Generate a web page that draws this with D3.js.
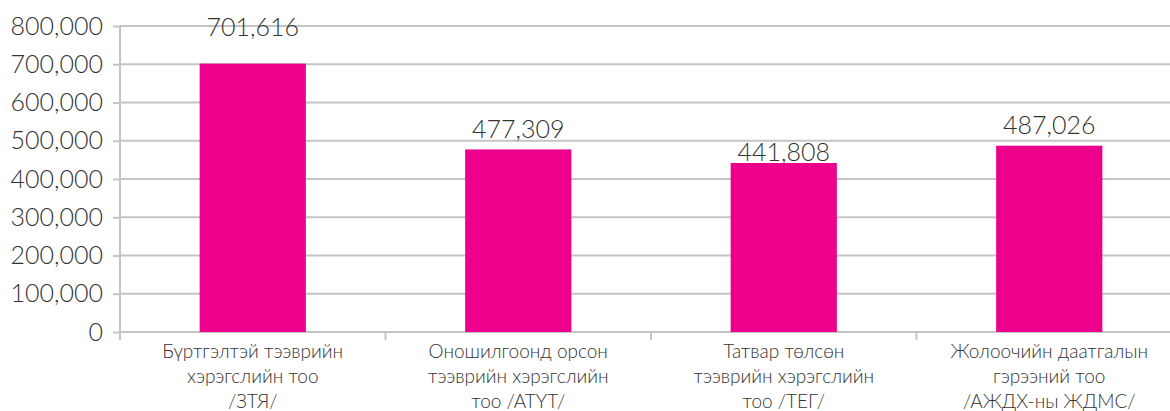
<!DOCTYPE html>
<html>
<head>
<meta charset="utf-8">
<script src="https://cdn.jsdelivr.net/npm/d3@7"></script>
<style>
  body { margin: 0; background: #fff; }
  svg { display: block; font-family: Lato, 'Liberation Sans', sans-serif; font-weight: 300; }
</style>
</head>
<body>
<div id="chart"></div>
<script>
// Chart data
const categories = [
  ['Бүртгэлтэй тээврийн', 'хэрэгслийн тоо', '/ЗТЯ/'],
  ['Оношилгоонд орсон', 'тээврийн хэрэгслийн', 'тоо /АТҮТ/'],
  ['Татвар төлсөн', 'тээврийн хэрэгслийн', 'тоо /ТЕГ/'],
  ['Жолоочийн даатгалын', 'гэрээний тоо', '/АЖДХ-ны ЖДМС/']
];
const values = [701616, 477309, 441808, 487026];
const yTicks = [0, 100000, 200000, 300000, 400000, 500000, 600000, 700000, 800000];

const width = 1170;
const height = 411;
const margin = { top: 26, left: 120 };
const plotH = 306;
const plotW = 1062;

const svg = d3.select('#chart').append('svg')
  .attr('width', width)
  .attr('height', height);

const x = d3.scaleBand()
  .domain(d3.range(categories.length))
  .range([0, plotW])
  .paddingInner(0.6)
  .paddingOuter(0.3);

const y = d3.scaleLinear()
  .domain([0, 800000])
  .range([plotH, 0]);

const fmt = d3.format(',');

const g = svg.append('g')
  .attr('transform', `translate(${margin.left},${margin.top})`);

// gridlines
g.append('g')
  .selectAll('line')
  .data(yTicks)
  .join('line')
  .attr('x1', 0)
  .attr('x2', plotW)
  .attr('y1', (d) => y(d))
  .attr('y2', (d) => y(d))
  .attr('stroke', '#c4c4c4')
  .attr('stroke-width', 2);

// y axis
const yAxis = d3.axisLeft(y)
  .tickValues(yTicks)
  .tickFormat(fmt)
  .tickSize(7)
  .tickPadding(10);

g.append('g')
  .call(yAxis)
  .call((s) => s.select('.domain').remove())
  .call((s) => s.selectAll('.tick line').attr('stroke', '#c4c4c4').attr('stroke-width', 2))
  .call((s) => s.selectAll('.tick text')
    .attr('fill', '#333')
    .style('font-size', '25px')
    .style('font-family', 'Lato, sans-serif')
    .style('font-weight', 300));

// vertical axis line
g.append('line')
  .attr('x1', 0).attr('x2', 0)
  .attr('y1', 0).attr('y2', plotH + 8)
  .attr('stroke', '#c4c4c4')
  .attr('stroke-width', 2);

// category separators
g.append('g')
  .selectAll('line')
  .data(d3.range(categories.length + 1))
  .join('line')
  .attr('x1', (i) => i * x.step())
  .attr('x2', (i) => i * x.step())
  .attr('y1', plotH)
  .attr('y2', plotH + 8)
  .attr('stroke', '#c4c4c4')
  .attr('stroke-width', 2);

// bars
g.append('g')
  .selectAll('rect')
  .data(values)
  .join('rect')
  .attr('x', (d, i) => x(i))
  .attr('y', (d) => y(d))
  .attr('width', x.bandwidth())
  .attr('height', (d) => plotH - y(d))
  .attr('fill', '#ec008c');

// value labels (nudged like the original)
const labelDy = [-28, -11, -2, -12];
g.append('g')
  .selectAll('text')
  .data(values)
  .join('text')
  .attr('x', (d, i) => x(i) + x.bandwidth() / 2)
  .attr('y', (d, i) => y(d) + labelDy[i])
  .attr('text-anchor', 'middle')
  .attr('fill', '#333')
  .style('font-size', '25px')
  .text((d) => fmt(d));

// category labels
const cat = g.append('g')
  .selectAll('text')
  .data(categories)
  .join('text')
  .attr('text-anchor', 'middle')
  .attr('fill', '#333')
  .style('font-size', '19px')
  .attr('x', (d, i) => x(i) + x.bandwidth() / 2)
  .attr('y', plotH + 26);

cat.selectAll('tspan')
  .data((d) => d)
  .join('tspan')
  .attr('x', function () { return d3.select(this.parentNode).attr('x'); })
  .attr('dy', (d, i) => (i === 0 ? 0 : 25))
  .text((d) => d);
</script>
</body>
</html>
